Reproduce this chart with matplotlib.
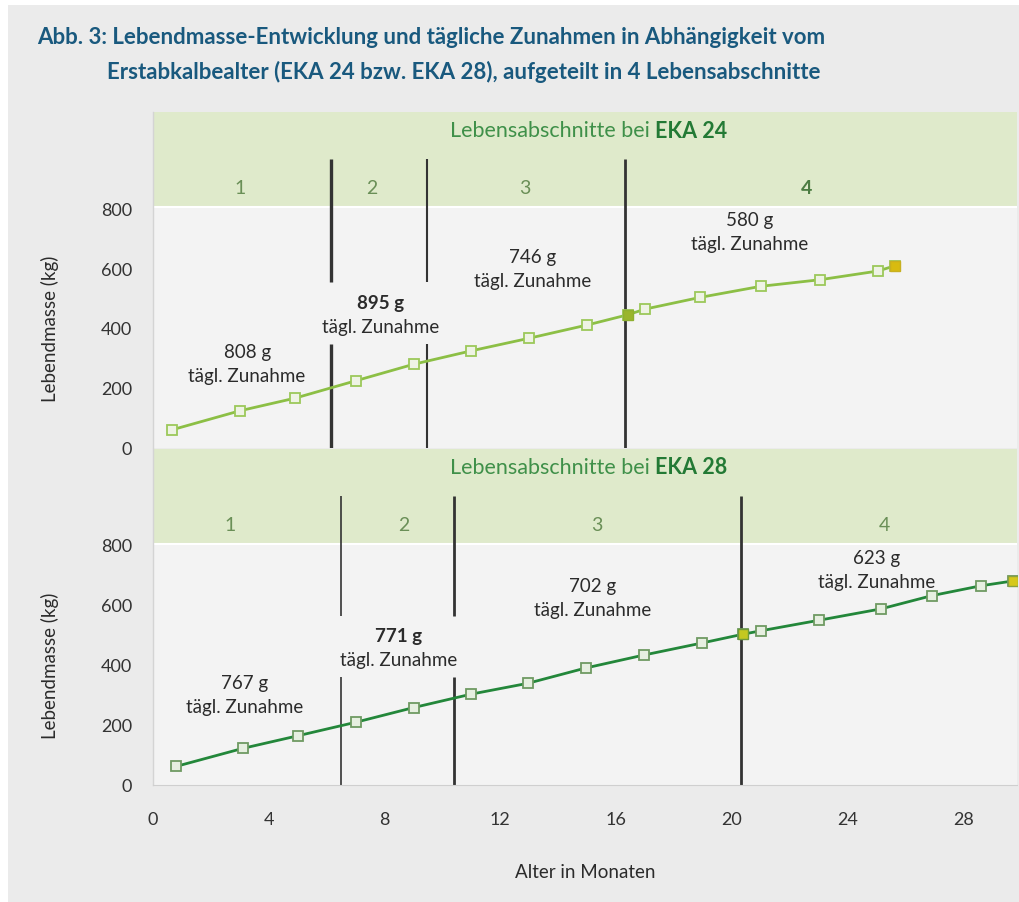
import matplotlib
matplotlib.use("Agg")
import matplotlib.pyplot as plt
from matplotlib.patches import Rectangle

# ---- data -----------------------------------------------------------------
# Live weight (kg) over age (months), first calving at 24 months
months_eka24 = [0.67, 3.0, 4.9, 7.0, 9.0, 11.0, 13.0, 15.0, 16.4, 17.0,
                18.9, 21.0, 23.05, 25.05, 25.65]
mass_eka24 = [61, 124, 166, 224, 279, 324, 366, 410, 444, 463,
              502, 539, 561, 590, 608]

# Live weight (kg) over age (months), first calving at 28 months
months_eka28 = [0.8, 3.1, 5.0, 7.0, 9.0, 11.0, 12.95, 14.95, 16.95, 18.95,
                20.4, 21.0, 23.0, 25.15, 26.9, 28.6, 29.7]
mass_eka28 = [62, 122, 164, 209, 258, 303, 339, 390, 433, 473,
              503, 514, 549, 587, 631, 664, 680]

# Boundaries between the four life stages (months)
stage_bounds_eka24 = [6.15, 9.45, 16.3]
stage_bounds_eka28 = [6.5, 10.4, 20.3]

# Mean daily gain per stage (g)
gain_eka24 = [808, 895, 746, 580]
gain_eka28 = [767, 771, 702, 623]

stage_names = ["1", "2", "3", "4"]
x_ticks = [0, 4, 8, 12, 16, 20, 24, 28]
y_ticks = [0, 200, 400, 600, 800]

title_line1 = "Abb. 3: Lebendmasse-Entwicklung und tägliche Zunahmen in Abhängigkeit vom"
title_line2 = "Erstabkalbealter (EKA 24 bzw. EKA 28), aufgeteilt in 4 Lebensabschnitte"

# ---- styling ---------------------------------------------------------------
FONT = ["Lato", "DejaVu Sans"]
BG = "#ebebeb"
PLOT_BG = "#f3f3f3"
HEADER = "#dfeacb"
TEXT = "#2b2b2b"
STAGE_TXT = "#6a8f57"
HEAD_TXT = "#3f9049"
HEAD_BOLD = "#237a35"
TITLE_COLOR = "#19597e"

panels = [
    dict(months=months_eka24, mass=mass_eka24, bounds=stage_bounds_eka24,
         gains=gain_eka24, eka="EKA 24",
         line="#8cbf45", medge="#9cc85a", mface="#eef3e4",
         hilite=[(8, "#9ab52c", "#8fb030"), (14, "#d8bb10", "#c8b020")],
         bound_lw=[2.4, 1.5, 2.0], gapped=[True, True, False],
         gap=(347, 553),
         stage_x=[3.0, 7.57, 12.86, 22.57], stage_bold=[False, False, False, True],
         label_xy=[(3.25, 280), (7.85, 445), (13.1, 597), (20.6, 722)],
         label_bold=[False, True, False, False],
         rect=[153 / 1020, 1 - 449 / 903, 864 / 1020, 336 / 903]),
    dict(months=months_eka28, mass=mass_eka28, bounds=stage_bounds_eka28,
         gains=gain_eka28, eka="EKA 28",
         line="#23873a", medge="#6f9a62", mface="#e6efe0",
         hilite=[(10, "#c4c820", "#6f9a3a"), (16, "#d6c81a", "#8aa040")],
         bound_lw=[1.2, 2.0, 2.0], gapped=[True, True, False],
         gap=(360, 563),
         stage_x=[2.66, 8.68, 15.35, 25.27], stage_bold=[False] * 4,
         label_xy=[(3.15, 303), (8.47, 458), (15.2, 625), (25.0, 718)],
         label_bold=[False, True, False, False],
         rect=[153 / 1020, 1 - 786 / 903, 864 / 1020, 336 / 903]),
]

YMAX = 1120
XMAX = 29.85
HEADER_Y = 805
BOUND_TOP = 962

fig = plt.figure(figsize=(10.2, 9.03), dpi=100)
fig.patch.set_facecolor("white")
fig.add_artist(Rectangle((8 / 1020, 0), 1 - 8 / 1020, 1 - 6 / 903,
                         transform=fig.transFigure, facecolor=BG,
                         edgecolor="none", zorder=-10))

# Two-line title; font size chosen so that the first line spans its column
t1 = fig.text(37 / 1020, 1 - 38 / 903, title_line1, family=FONT,
              weight="bold", fontsize=17, color=TITLE_COLOR, va="center", ha="left")
t2 = fig.text(107 / 1020, 1 - 72 / 903, title_line2, family=FONT,
              weight="bold", fontsize=17, color=TITLE_COLOR, va="center", ha="left")
fig.canvas.draw()
w1 = t1.get_window_extent().width
size = 17 * 789 / w1
t1.set_fontsize(size)
t2.set_fontsize(size)

for i, p in enumerate(panels):
    ax = fig.add_axes(p["rect"])
    ax.set_facecolor(PLOT_BG)
    ax.set_xlim(0, XMAX)
    ax.set_ylim(0, YMAX)

    # stage header band
    ax.axhspan(HEADER_Y, YMAX, color=HEADER, zorder=0, lw=0)
    ax.axhline(HEADER_Y, color="white", lw=1.5, zorder=0.5)

    # stage dividers
    for b, lw, gapped in zip(p["bounds"], p["bound_lw"], p["gapped"]):
        if gapped:
            ax.plot([b, b], [p["gap"][1], BOUND_TOP], color="#333333", lw=lw, zorder=2,
                    solid_capstyle="butt")
            ax.plot([b, b], [0, p["gap"][0]], color="#333333", lw=lw, zorder=2,
                    solid_capstyle="butt")
        else:
            ax.plot([b, b], [0, BOUND_TOP], color="#333333", lw=lw, zorder=2,
                    solid_capstyle="butt")

    # growth curve
    ax.plot(p["months"], p["mass"], color=p["line"], lw=2.0, marker="s",
            markersize=6.5, markerfacecolor=p["mface"], markeredgecolor=p["medge"],
            markeredgewidth=1.3, zorder=3)
    for idx, face, edge in p["hilite"]:
        ax.plot([p["months"][idx]], [p["mass"][idx]], marker="s", markersize=7,
                markerfacecolor=face, markeredgecolor=edge, markeredgewidth=1.0,
                linestyle="none", zorder=4)

    # stage numbers
    for name, sx, sb in zip(stage_names, p["stage_x"], p["stage_bold"]):
        ax.text(sx, 867, name, family=FONT, fontsize=14,
                weight="bold" if sb else "normal",
                color="#4c7c42" if sb else STAGE_TXT, ha="center", va="center",
                zorder=5)

    # header caption
    ax.text(17.15, 1060, "Lebensabschnitte bei", family=FONT, fontsize=15.5,
            color=HEAD_TXT, ha="right", va="center", zorder=5)
    ax.text(17.35, 1060, p["eka"], family=FONT, fontsize=15.5, weight="bold",
            color=HEAD_BOLD, ha="left", va="center", zorder=5)

    # daily gain labels
    for g, (lx, ly), lb in zip(p["gains"], p["label_xy"], p["label_bold"]):
        ax.text(lx, ly + 40, f"{g} g", family=FONT, fontsize=13.5,
                weight="bold" if lb else "normal", color=TEXT,
                ha="center", va="center", zorder=5)
        ax.text(lx, ly - 40, "tägl. Zunahme", family=FONT, fontsize=13.5,
                color=TEXT, ha="center", va="center", zorder=5)

    # axes
    ax.set_yticks(y_ticks)
    ax.set_yticklabels([str(v) for v in y_ticks], family=FONT, fontsize=13,
                       color="#333333")
    ax.tick_params(axis="y", length=0, pad=15)
    ax.set_ylabel("Lebendmasse (kg)", family=FONT, fontsize=13.5, color=TEXT)
    ax.yaxis.set_label_coords(-0.109, 400 / YMAX)
    for side in ["top", "right", "bottom"]:
        ax.spines[side].set_visible(False)
    ax.spines["left"].set_color("#d4d4d4")
    ax.spines["left"].set_linewidth(1.0)

    if i == 0:
        ax.set_xticks([])
    else:
        ax.spines["bottom"].set_visible(True)
        ax.spines["bottom"].set_color("#cfcfcf")
        ax.set_xticks(x_ticks)
        ax.set_xticklabels([str(v) for v in x_ticks], family=FONT, fontsize=13,
                           color="#333333")
        ax.tick_params(axis="x", length=0, pad=19)
        ax.set_xlabel("Alter in Monaten", family=FONT, fontsize=13.5,
                      color=TEXT, labelpad=26)

fig.savefig("out.png", dpi=100, facecolor=fig.get_facecolor())
